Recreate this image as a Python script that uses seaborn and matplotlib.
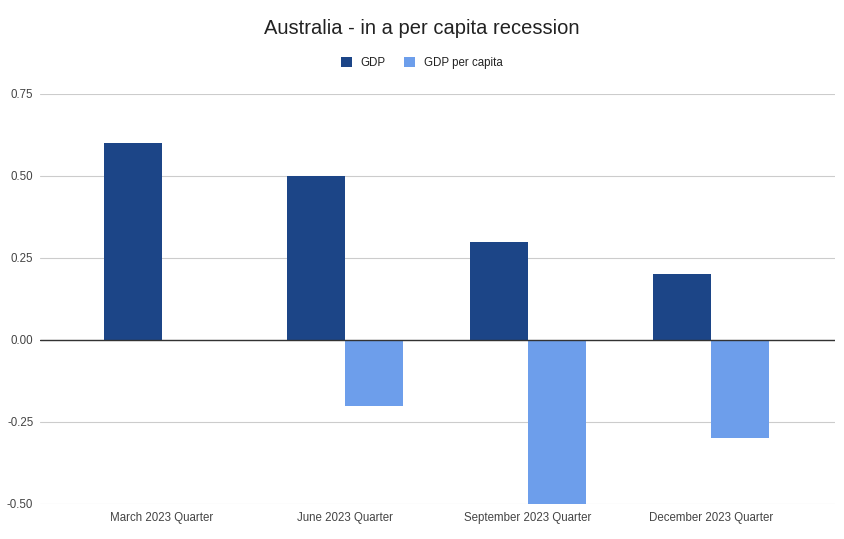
import matplotlib
matplotlib.use("Agg")
import matplotlib.pyplot as plt
import seaborn as sns
import pandas as pd
from matplotlib.patches import Patch

categories = ["March 2023 Quarter", "June 2023 Quarter", "September 2023 Quarter", "December 2023 Quarter"]
gdp = [0.6, 0.5, 0.3, 0.2]
gdp_per_capita = [0.0, -0.2, -0.5, -0.3]
series_names = ["GDP", "GDP per capita"]
colors = ["#1c4587", "#6d9eeb"]
yticks = [-0.5, -0.25, 0.0, 0.25, 0.5, 0.75]

df = pd.DataFrame({
    "Quarter": categories * 2,
    "Value": gdp + gdp_per_capita,
    "Series": [series_names[0]] * len(categories) + [series_names[1]] * len(categories),
})

sns.set_theme(style="white")
plt.rcParams["font.family"] = ["Liberation Sans", "DejaVu Sans"]

fig = plt.figure(figsize=(8.44, 5.39), dpi=100)
ax = fig.add_axes([40/844, 35/539, 795/844, 410/539])

sns.barplot(data=df, x="Quarter", y="Value", hue="Series", palette=colors,
            width=0.634, dodge=True, gap=0, saturation=1, ax=ax, legend=False,
            edgecolor="none", linewidth=0)

ax.set_ylim(-0.5, 0.75)
ax.set_xlim(-0.667, 3.677)
ax.set_yticks(yticks)
ax.set_yticklabels([f"{t:.2f}" for t in yticks])
ax.grid(axis="y", color="#cccccc", linewidth=0.8)
ax.set_axisbelow(True)
ax.axhline(0, color="#333333", linewidth=1, zorder=3)
for s in ax.spines.values():
    s.set_visible(False)
ax.set_xlabel("")
ax.set_ylabel("")
ax.tick_params(axis="both", length=0, labelsize=8.3, colors="#444444")
ax.tick_params(axis="y", pad=4.8)
ax.tick_params(axis="x", pad=6)

fig.text(0.5, 1 - 28/539, "Australia - in a per capita recession", ha="center", va="center",
         fontsize=14.5, color="#222222")

handles = [Patch(facecolor=c, edgecolor="none") for c in colors]
fig.legend(handles, series_names, loc="center", bbox_to_anchor=(0.5, 1 - 63/539), ncol=2,
           frameon=False, fontsize=8.3, handlelength=0.9, handleheight=0.9, handletextpad=0.8,
           columnspacing=1.6, labelcolor="#222222")

fig.savefig("out.png", dpi=100)
